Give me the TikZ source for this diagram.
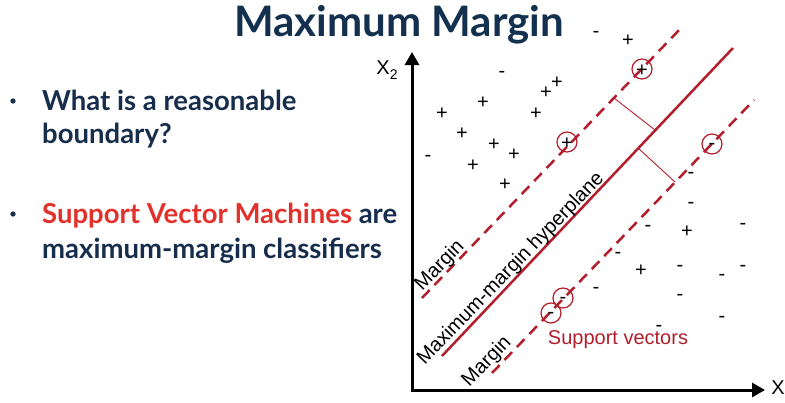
\documentclass[tikz,border=0pt]{standalone}
\usepackage{fontspec}
\setmainfont{Lato}
\newfontfamily\arialfont{Liberation Sans}
\usetikzlibrary{arrows.meta}
\definecolor{navy}{HTML}{172D4C}
\definecolor{titlenavy}{HTML}{14304F}
\definecolor{svmred}{HTML}{E2302A}
\definecolor{plotred}{HTML}{B21E2B}

\begin{document}
\begin{tikzpicture}[x=1pt,y=-1pt,
    bullettext/.style={anchor=base west, inner sep=0pt, text=navy,
        font=\bfseries\fontsize{27.5}{27.5}\selectfont},
    datapt/.style={anchor=base, inner sep=0pt, font=\arialfont\fontsize{20}{20}\selectfont},
    plotlabel/.style={font=\arialfont\fontsize{20}{20}\selectfont, inner sep=0pt},
    svcircle/.style={draw=plotred, line width=1.2pt}]
    \useasboundingbox (0,0) rectangle (785,402);

    % title and bullets
    \node[anchor=base, inner sep=0pt, text=titlenavy, font=\bfseries\fontsize{42}{42}\selectfont]
        (title) at (399,36) {Maximum Margin};
    \fill[navy] (13,101) circle(2.7) (13,214) circle(2.7);
    \node[bullettext] (q1) at (42,110) {What is a reasonable};
    \node[bullettext] (q2) at (42,143) {boundary?};
    \node[bullettext] (a1) at (42,223) {\textcolor{svmred}{Support Vector Machines} are};
    \node[bullettext] (a2) at (42,258) {maximum-margin classifiers};

    % axes
    \draw[line width=3pt, {Triangle[length=13pt,width=14pt]}-{Triangle[length=13pt,width=14pt]}]
        (412,52) -- (412,390) -- (765,390);
    \node[plotlabel] (x2) at (387,70) {X\raisebox{-5pt}{\fontsize{14}{14}\selectfont 2}};
    \node[plotlabel] (x1) at (782,390) {X\raisebox{-5pt}{\fontsize{14}{14}\selectfont 1}};

    % hyperplane and margins
    \coordinate (mta) at (422,298); \coordinate (mtb) at (682,27);
    \coordinate (ha) at (442,356);  \coordinate (hb) at (733,48);
    \coordinate (mba) at (492,373); \coordinate (mbb) at (754,100);
    \draw[plotred, line width=2.5pt, dash pattern=on 11pt off 7pt] (mta) -- (mtb);
    \draw[plotred, line width=2.5pt, dash pattern=on 11pt off 7pt] (mba) -- (mbb);
    \draw[plotred, line width=2.5pt] (ha) -- (hb);
    \draw[plotred, line width=0.9pt] (614,98) -- (655,130);
    \draw[plotred, line width=0.9pt] (638,148) -- (675,182);

    \node[plotlabel, rotate=46] (mtop) at (440,266) {Margin};
    \node[plotlabel, rotate=46] (hyp) at (511,269) {Maximum-margin hyperplane};
    \node[plotlabel, rotate=46] (mbot) at (487,362) {Margin};
    \node[plotlabel, text=plotred] (sv) at (618,340) {Support vectors};

    % data points
    \foreach \x/\y [count=\i] in {628/39, 557/81, 546/91, 483/101, 442/112, 536/112,
        462/132, 494/143, 514/153, 473/164, 505/183, 687/230, 641/269, 642/69, 567/142}
        \node[datapt] (p\i) at (\x,\y+7) {+};
    \foreach \x/\y [count=\i] in {596/32, 502/72, 428/156, 691/173, 691/203, 648/226,
        743/224, 618/253, 680/266, 722/275, 743/266, 596/288, 680/295, 722/317, 659/326,
        712/144, 563/298, 551/313}
        \node[datapt] (n\i) at (\x,\y+5) {-};
    \foreach \x/\y in {642/69, 567/142, 712/144, 563/298, 551/313}
        \draw[svcircle] (\x,\y) circle(10);
\end{tikzpicture}
\end{document}
